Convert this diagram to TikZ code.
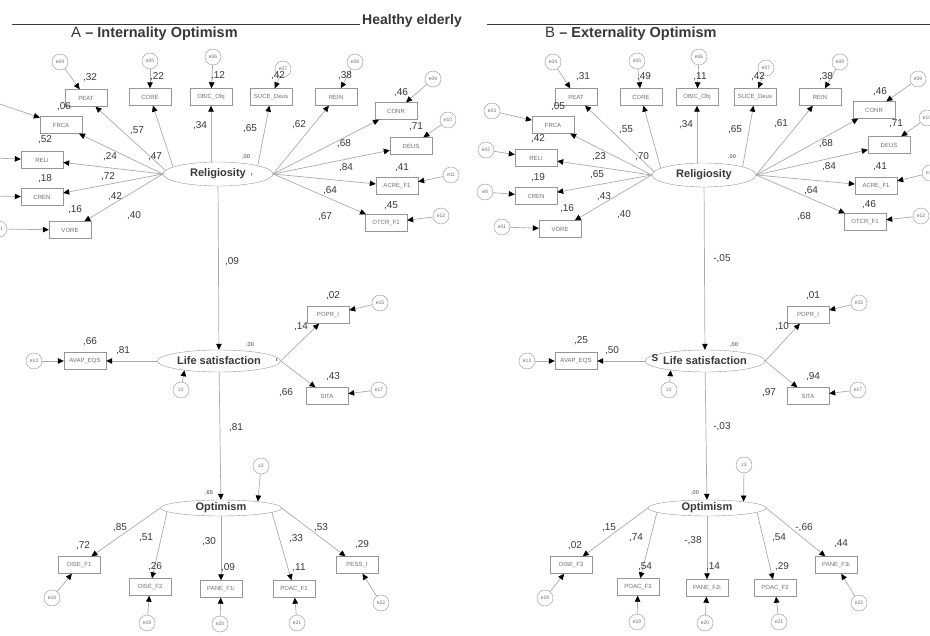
\documentclass[tikz,border=0pt]{standalone}
\usepackage{fontspec}
\setmainfont{Liberation Sans}
\usetikzlibrary{arrows.meta}
\usetikzlibrary{shapes.geometric}

\definecolor{linegray}{RGB}{170,170,170}
\definecolor{boxgray}{RGB}{150,150,150}
\definecolor{boxtext}{RGB}{110,110,110}
\definecolor{numtext}{RGB}{55,55,55}

\begin{document}
\begin{tikzpicture}[x=1pt,y=-1pt,
    obs/.style={draw=boxgray, rectangle, minimum width=42pt, minimum height=17pt, inner sep=0pt, text=boxtext, font=\fontsize{6}{6}\selectfont},
    err/.style={draw=boxgray, circle, minimum size=16pt, inner sep=0pt, text=boxtext, font=\fontsize{5}{5}\selectfont},
    lat/.style={draw=boxgray, ellipse, inner sep=0pt, text=numtext, font=\bfseries\fontsize{11}{11}\selectfont},
    est/.style={text=numtext, inner sep=0pt, font=\fontsize{10}{10}\selectfont},
    mini/.style={text=numtext, inner sep=0pt, font=\fontsize{5.5}{5.5}\selectfont},
    arr/.style={draw=linegray, line width=0.7pt, -{Triangle[length=6pt,width=5.5pt,black]}}]
    \useasboundingbox (0,0) rectangle (930,636);
    \clip (0,0) rectangle (930,636);

    % headings
    \draw[numtext, line width=0.8pt] (12,24) -- (360,24);
    \draw[numtext, line width=0.8pt] (487,24) -- (930,24);
    \node[anchor=base west, text=numtext, inner sep=0pt, font=\bfseries\fontsize{14}{14}\selectfont] (healthy) at (362,25) {Healthy elderly};
    \node[anchor=base west, text=numtext, inner sep=0pt] (titleA) at (71,38) {\fontsize{15}{15}\selectfont A {\bfseries\fontsize{14.5}{14.5}\selectfont -- Internality Optimism}};
    \node[anchor=base west, text=numtext, inner sep=0pt] (titleB) at (545,38) {\fontsize{15}{15}\selectfont B {\bfseries\fontsize{14.5}{14.5}\selectfont -- Externality Optimism}};

    % ---------------- A: religiosity
    \node[lat, minimum width=110pt, minimum height=24pt] (relA) at (218,174) {Religiosity};
    \node[obs] (peatA) at (86,98) {PEAT};
    \node[obs] (coreA) at (150,97) {CORE};
    \node[obs] (obicA) at (211,97) {OBIC\_Obj};
    \node[obs] (suceA) at (271,97) {SUCE\_Deus};
    \node[obs] (reinA) at (336,97) {REIN};
    \node[obs] (conrA) at (396,111) {CONR};
    \node[obs] (deusA) at (411,146) {DEUS};
    \node[obs] (acreA) at (397,186) {ACRE\_F1};
    \node[obs] (otcrA) at (386,223) {OTCR\_F1};
    \node[obs] (frcaA) at (61,125) {FRCA};
    \node[obs] (reliA) at (42,160) {RELI};
    \node[obs] (crenA) at (42,197) {CREN};
    \node[obs] (voreA) at (70,230) {VORE};
    \node[err] (e04A) at (60,62) {e04};
    \node[err] (e05A) at (150,61) {e05};
    \node[err] (e06A) at (213,57) {e06};
    \node[err] (e07A) at (283,69) {e07};
    \node[err] (e08A) at (355,62) {e08};
    \node[err] (e09A) at (433,79) {e09};
    \node[err] (e10A) at (448,120) {e10};
    \node[err] (e11A) at (451,175) {e11};
    \node[err] (e12A) at (441,216) {e12};
    \coordinate (e03A) at (-6,102);
    \coordinate (e02A) at (-6,158);
    \coordinate (e8A) at (-6,196);
    \node[err] (e01A) at (-1,229) {e01};
    \draw[arr] (e04A) -- (peatA);
    \draw[arr] (e05A) -- (coreA);
    \draw[arr] (e06A) -- (obicA);
    \draw[arr] (e07A) -- (suceA);
    \draw[arr] (e08A) -- (reinA);
    \draw[arr] (e09A) -- (conrA);
    \draw[arr] (e10A) -- (deusA);
    \draw[arr] (e11A) -- (acreA);
    \draw[arr] (e12A) -- (otcrA);
    \draw[arr] (e03A) -- (frcaA);
    \draw[arr] (e02A) -- (reliA);
    \draw[arr] (e8A) -- (crenA);
    \draw[arr] (e01A) -- (voreA);
    \draw[arr] (relA.176) -- (peatA);
    \draw[arr] (relA.171) -- (coreA);
    \draw[arr] (relA.north -| obicA) -- (obicA);
    \draw[arr] (relA.12) -- (suceA);
    \draw[arr] (relA.east) -- (reinA);
    \draw[arr] (relA.east) -- (conrA);
    \draw[arr] (relA.east) -- (deusA);
    \draw[arr] (relA.east) -- (acreA);
    \draw[arr] (relA.east) -- (otcrA);
    \draw[arr] (relA.west) -- (frcaA);
    \draw[arr] (relA.west) -- (reliA);
    \draw[arr] (relA.west) -- (crenA);
    \draw[arr] (relA.west) -- (voreA);
    \node[est] (r2peatA) at (90,78) {,32};
    \node[est] (r2coreA) at (157,77) {,22};
    \node[est] (r2obicA) at (218,76) {,12};
    \node[est] (r2suceA) at (278,76) {,42};
    \node[est] (r2reinA) at (345,76) {,38};
    \node[est] (r2conrA) at (401,93) {,46};
    \node[est] (r2deusA) at (416,127) {,71};
    \node[est] (r2acreA) at (402,168) {,41};
    \node[est] (r2otcrA) at (391,206) {,45};
    \node[est] (r2frcaA) at (64,107) {,06};
    \node[est] (r2reliA) at (45,140) {,52};
    \node[est] (r2crenA) at (45,179) {,18};
    \node[est] (r2voreA) at (75,210) {,16};
    \node[est] (ldpeatA) at (137,131) {,57};
    \node[est] (ldcoreA) at (155,157) {,47};
    \node[est] (ldobicA) at (200,126) {,34};
    \node[est] (ldsuceA) at (250,129) {,65};
    \node[est] (ldreinA) at (299,125) {,62};
    \node[est] (ldconrA) at (344,144) {,68};
    \node[est] (lddeusA) at (346,168) {,84};
    \node[est] (ldacreA) at (330,191) {,64};
    \node[est] (ldotcrA) at (325,217) {,67};
    \node[est] (ldfrcaA) at (110,157) {,24};
    \node[est] (ldreliA) at (108,177) {,72};
    \node[est] (ldcrenA) at (115,197) {,42};
    \node[est] (ldvoreA) at (134,216) {,40};
    \node[mini] (r2relA) at (246,157) {,00};
    \node[mini] (markrelA) at (252,175) {r};

    % ---------------- A: life satisfaction
    \node[lat, minimum width=123pt, minimum height=22pt] (lsA) at (219,361) {Life satisfaction};
    \node[obs] (avapA) at (85,361) {AVAP\_EQS};
    \node[obs] (poprA) at (328,315) {POPR\_I};
    \node[obs] (sitaA) at (327,396) {SITA};
    \node[err] (e13A) at (34,361) {e13};
    \node[err] (e15A) at (380,303) {e15};
    \node[err] (e17A) at (379,390) {e17};
    \node[err] (z2A) at (181,390) {z2};
    \draw[arr] (relA) -- (lsA);
    \draw[arr] (e13A) -- (avapA);
    \draw[arr] (e15A) -- (poprA);
    \draw[arr] (e17A) -- (sitaA);
    \draw[arr] (z2A) -- (lsA.195);
    \draw[arr] (lsA) -- (avapA);
    \draw[arr] (lsA.east) -- (poprA);
    \draw[arr] (lsA.east) -- (sitaA);
    \node[est] (pathA1) at (232,262) {,09};
    \node[mini] (r2lsA) at (250,345) {,00};
    \node[mini] (marklsA) at (277,360) {\bfseries ı};
    \node[est] (r2avapA) at (90,342) {,66};
    \node[est] (ldavapA) at (123,351) {,81};
    \node[est] (r2poprA) at (333,296) {,02};
    \node[est] (ldpoprA) at (301,327) {,14};
    \node[est] (r2sitaA) at (333,377) {,43};
    \node[est] (ldsitaA) at (286,393) {,66};

    % ---------------- A: optimism
    \node[lat, minimum width=121pt, minimum height=16pt] (optA) at (221,508) {Optimism};
    \node[obs] (oiseoneA) at (79,565) {OISE\_F1};
    \node[obs] (oisetwoA) at (150,587) {OISE\_F2};
    \node[obs] (paneA) at (221,589) {PANE\_F1i};
    \node[obs] (poacA) at (294,589) {POAC\_F1};
    \node[obs] (pessA) at (357,565) {PESS\_I};
    \node[err] (e18A) at (52,598) {e18};
    \node[err] (e19A) at (147,623) {e19};
    \node[err] (e20A) at (220,624) {e20};
    \node[err] (e21A) at (297,623) {e21};
    \node[err] (e22A) at (381,603) {e22};
    \node[err] (z3A) at (261,466) {z3};
    \draw[arr] (lsA) -- (optA);
    \draw[arr] (z3A) -- (optA.10);
    \draw[arr] (optA.west) -- (oiseoneA);
    \draw[arr] (optA.184) -- (oisetwoA);
    \draw[arr] (optA.south) -- (paneA);
    \draw[arr] (optA.-5) -- (poacA);
    \draw[arr] (optA.east) -- (pessA);
    \draw[arr] (e18A) -- (oiseoneA);
    \draw[arr] (e19A) -- (oisetwoA);
    \draw[arr] (e20A) -- (paneA);
    \draw[arr] (e21A) -- (poacA);
    \draw[arr] (e22A) -- (pessA);
    \node[est] (pathA2) at (236,428) {,81};
    \node[mini] (r2optA) at (209,493) {,65};
    \node[est] (r2oiseoneA) at (83,546) {,72};
    \node[est] (ldoiseoneA) at (120,528) {,85};
    \node[est] (r2oisetwoA) at (155,567) {,26};
    \node[est] (ldoisetwoA) at (146,538) {,51};
    \node[est] (r2paneA) at (228,568) {,09};
    \node[est] (ldpaneA) at (209,542) {,30};
    \node[est] (r2poacA) at (299,568) {,11};
    \node[est] (ldpoacA) at (296,539) {,33};
    \node[est] (r2pessA) at (362,545) {,29};
    \node[est] (ldpessA) at (321,528) {,53};

    % ---------------- B: religiosity
    \node[lat, minimum width=104pt, minimum height=24pt] (relB) at (704,175) {Religiosity};
    \node[obs] (peatB) at (576,97) {PEAT};
    \node[obs] (coreB) at (641,97) {CORE};
    \node[obs] (obicB) at (697,97) {OBIC\_Obj};
    \node[obs] (suceB) at (755,97) {SUCE\_Deus};
    \node[obs] (reinB) at (820,97) {REIN};
    \node[obs] (conrB) at (874,110) {CONR};
    \node[obs] (deusB) at (889,145) {DEUS};
    \node[obs] (acreB) at (876,186) {ACRE\_F1};
    \node[obs] (otcrB) at (865,222) {OTCR\_F1};
    \node[obs] (frcaB) at (553,125) {FRCA};
    \node[obs] (reliB) at (536,158) {RELI};
    \node[obs] (crenB) at (536,196) {CREN};
    \node[obs] (voreB) at (560,229) {VORE};
    \node[err] (e04B) at (553,62) {e04};
    \node[err] (e05B) at (637,61) {e05};
    \node[err] (e06B) at (699,57) {e06};
    \node[err] (e07B) at (766,68) {e07};
    \node[err] (e08B) at (840,62) {e08};
    \node[err] (e09B) at (918,79) {e09};
    \node[err] (e10B) at (927,118) {e10};
    \node[err] (e11B) at (930,173) {e11};
    \node[err] (e12B) at (921,216) {e12};
    \node[err] (e03B) at (492,111) {e03};
    \node[err] (e02B) at (486,150) {e02};
    \node[err] (e8B) at (485,192) {e8};
    \node[err] (e01B) at (502,227) {e01};
    \draw[arr] (e04B) -- (peatB);
    \draw[arr] (e05B) -- (coreB);
    \draw[arr] (e06B) -- (obicB);
    \draw[arr] (e07B) -- (suceB);
    \draw[arr] (e08B) -- (reinB);
    \draw[arr] (e09B) -- (conrB);
    \draw[arr] (e10B) -- (deusB);
    \draw[arr] (e11B) -- (acreB);
    \draw[arr] (e12B) -- (otcrB);
    \draw[arr] (e03B) -- (frcaB);
    \draw[arr] (e02B) -- (reliB);
    \draw[arr] (e8B) -- (crenB);
    \draw[arr] (e01B) -- (voreB);
    \draw[arr] (relB.176) -- (peatB);
    \draw[arr] (relB.171) -- (coreB);
    \draw[arr] (relB.north -| obicB) -- (obicB);
    \draw[arr] (relB.12) -- (suceB);
    \draw[arr] (relB.east) -- (reinB);
    \draw[arr] (relB.east) -- (conrB);
    \draw[arr] (relB.east) -- (deusB);
    \draw[arr] (relB.east) -- (acreB);
    \draw[arr] (relB.east) -- (otcrB);
    \draw[arr] (relB.west) -- (frcaB);
    \draw[arr] (relB.west) -- (reliB);
    \draw[arr] (relB.west) -- (crenB);
    \draw[arr] (relB.west) -- (voreB);
    \node[est] (r2peatB) at (583,77) {,31};
    \node[est] (r2coreB) at (644,77) {,49};
    \node[est] (r2obicB) at (700,77) {,11};
    \node[est] (r2suceB) at (758,77) {,42};
    \node[est] (r2reinB) at (826,77) {,38};
    \node[est] (r2conrB) at (880,92) {,46};
    \node[est] (r2deusB) at (896,124) {,71};
    \node[est] (r2acreB) at (880,167) {,41};
    \node[est] (r2otcrB) at (869,205) {,46};
    \node[est] (r2frcaB) at (558,107) {,05};
    \node[est] (r2reliB) at (538,139) {,42};
    \node[est] (r2crenB) at (538,178) {,19};
    \node[est] (r2voreB) at (567,209) {,16};
    \node[est] (ldpeatB) at (626,130) {,55};
    \node[est] (ldcoreB) at (642,157) {,70};
    \node[est] (ldobicB) at (686,125) {,34};
    \node[est] (ldsuceB) at (735,130) {,65};
    \node[est] (ldreinB) at (781,124) {,61};
    \node[est] (ldconrB) at (826,144) {,68};
    \node[est] (lddeusB) at (829,167) {,84};
    \node[est] (ldacreB) at (811,191) {,64};
    \node[est] (ldotcrB) at (804,217) {,68};
    \node[est] (ldfrcaB) at (599,157) {,23};
    \node[est] (ldreliB) at (597,175) {,65};
    \node[est] (ldcrenB) at (604,197) {,43};
    \node[est] (ldvoreB) at (624,215) {,40};
    \node[mini] (r2relB) at (732,157) {,00};

    % ---------------- B: life satisfaction
    \node[lat, minimum width=120pt, minimum height=22pt] (lsB) at (705,361) {Life satisfaction};
    \node[obs] (avapB) at (576,361) {AVAP\_EQS};
    \node[obs] (poprB) at (808,315) {POPR\_I};
    \node[obs] (sitaB) at (808,396) {SITA};
    \node[err] (e13B) at (527,361) {e13};
    \node[err] (e15B) at (859,303) {e15};
    \node[err] (e17B) at (858,390) {e17};
    \node[err] (z2B) at (669,390) {z2};
    \draw[arr] (relB) -- (lsB);
    \draw[arr] (e13B) -- (avapB);
    \draw[arr] (e15B) -- (poprB);
    \draw[arr] (e17B) -- (sitaB);
    \draw[arr] (z2B) -- (lsB.195);
    \draw[arr] (lsB) -- (avapB);
    \draw[arr] (lsB.east) -- (poprB);
    \draw[arr] (lsB.east) -- (sitaB);
    \node[est, font=\bfseries\fontsize{10}{10}\selectfont] (marklsB) at (655,358) {S};
    \node[est] (pathB1) at (722,259) {-,05};
    \node[mini] (r2lsB) at (734,345) {,00};
    \node[est] (r2avapB) at (581,341) {,25};
    \node[est] (ldavapB) at (612,351) {,50};
    \node[est] (r2poprB) at (813,296) {,01};
    \node[est] (ldpoprB) at (782,327) {,10};
    \node[est] (r2sitaB) at (813,377) {,94};
    \node[est] (ldsitaB) at (769,393) {,97};

    % ---------------- B: optimism
    \node[lat, minimum width=118pt, minimum height=16pt] (optB) at (707,508) {Optimism};
    \node[obs] (oiseB) at (571,565) {OISE\_F3};
    \node[obs] (poacthreeB) at (638,587) {POAC\_F3};
    \node[obs] (panetwoB) at (707,588) {PANE\_F2i};
    \node[obs] (poactwoB) at (775,588) {POAC\_F2};
    \node[obs] (panethreeB) at (836,565) {PANE\_F3i};
    \node[err] (e18B) at (545,598) {e18};
    \node[err] (e19B) at (637,622) {e19};
    \node[err] (e20B) at (705,623) {e20};
    \node[err] (e21B) at (779,622) {e21};
    \node[err] (e22B) at (859,603) {e22};
    \node[err] (z3B) at (744,465) {z3};
    \draw[arr] (lsB) -- (optB);
    \draw[arr] (z3B) -- (optB.10);
    \draw[arr] (optB.west) -- (oiseB);
    \draw[arr] (optB.185) -- (poacthreeB);
    \draw[arr] (optB.south) -- (panetwoB);
    \draw[arr] (optB.-5) -- (poactwoB);
    \draw[arr] (optB.east) -- (panethreeB);
    \draw[arr] (e18B) -- (oiseB);
    \draw[arr] (e19B) -- (poacthreeB);
    \draw[arr] (e20B) -- (panetwoB);
    \draw[arr] (e21B) -- (poactwoB);
    \draw[arr] (e22B) -- (panethreeB);
    \node[est] (pathB2) at (722,427) {-,03};
    \node[mini] (r2optB) at (695,493) {,00};
    \node[est] (r2oiseB) at (575,546) {,02};
    \node[est] (ldoiseB) at (609,528) {,15};
    \node[est] (r2poacthreeB) at (645,567) {,54};
    \node[est] (ldpoacthreeB) at (636,538) {,74};
    \node[est] (r2panetwoB) at (713,567) {,14};
    \node[est] (ldpanetwoB) at (693,541) {-,38};
    \node[est] (r2poactwoB) at (782,567) {,29};
    \node[est] (ldpoactwoB) at (779,538) {,54};
    \node[est] (r2panethreeB) at (841,544) {,44};
    \node[est] (ldpanethreeB) at (804,528) {-,66};
\end{tikzpicture}
\end{document}
